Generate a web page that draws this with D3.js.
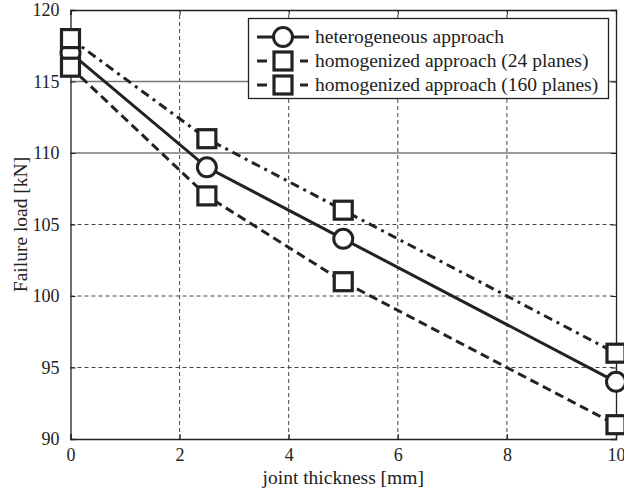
<!DOCTYPE html>
<html>
<head>
<meta charset="utf-8">
<script src="https://cdn.jsdelivr.net/npm/d3@7"></script>
<style>
  body { margin: 0; background: #fff; }
  text { font-family: "Liberation Serif", "Times New Roman", serif; fill: #222; }
</style>
</head>
<body>
<svg id="chart" width="624" height="492"></svg>
<script>
// Joint thickness [mm] at which the failure load was computed
const thickness = [0, 2.5, 5, 10];
// Failure load [kN] for each modelling approach
const heterogeneous = [117, 109, 104, 94];
const homog24 = [116, 107, 101, 91];
const homog160 = [118, 111, 106, 96];

const xTicks = [0, 2, 4, 6, 8, 10];
const yTicks = [90, 95, 100, 105, 110, 115, 120];
const seriesNames = [
  "heterogeneous approach",
  "homogenized approach (24 planes)",
  "homogenized approach (160 planes)"
];

const series = [
  { name: seriesNames[0], values: heterogeneous, dash: null, marker: "circle" },
  { name: seriesNames[1], values: homog24, dash: "9,5", marker: "square" },
  { name: seriesNames[2], values: homog160, dash: "9,5,3,5", marker: "square" }
];

const svg = d3.select("#chart");
const margin = { left: 70.5, right: 8, top: 10, bottom: 53 };
const W = 624, H = 492;
const x = d3.scaleLinear().domain([0, 10]).range([margin.left, W - margin.right]);
const y = d3.scaleLinear().domain([90, 120]).range([H - margin.bottom, margin.top]);

const tickFont = 18, labelFont = 19.5;

// grid
const grid = svg.append("g");
xTicks.slice(1, -1).forEach(t => {
  grid.append("line")
    .attr("x1", x(t)).attr("x2", x(t))
    .attr("y1", y(90)).attr("y2", y(120))
    .attr("stroke", "#444").attr("stroke-width", 1)
    .attr("stroke-dasharray", "4,3");
});
yTicks.slice(1, -1).forEach(t => {
  const solid = t === 110 || t === 115;
  grid.append("line")
    .attr("x1", x(0)).attr("x2", x(10))
    .attr("y1", y(t)).attr("y2", y(t))
    .attr("stroke", solid ? "#777" : "#444").attr("stroke-width", solid ? 1.3 : 1)
    .attr("stroke-dasharray", solid ? null : "4,3");
});

// axes (ticks pointing inward, on all four sides)
const axB = svg.append("g").attr("transform", `translate(0,${y(90)})`)
  .call(d3.axisBottom(x).tickValues(xTicks).tickSize(-5).tickPadding(9).tickFormat(d3.format("d")));
const axT = svg.append("g").attr("transform", `translate(0,${y(120)})`)
  .call(d3.axisTop(x).tickValues(xTicks).tickSize(-5).tickFormat(""));
const axL = svg.append("g").attr("transform", `translate(${x(0)},0)`)
  .call(d3.axisLeft(y).tickValues(yTicks).tickSize(-5).tickPadding(11).tickFormat(d3.format("d")));
const axR = svg.append("g").attr("transform", `translate(${x(10)},0)`)
  .call(d3.axisRight(y).tickValues(yTicks).tickSize(-5).tickFormat(""));
[axB, axT, axL, axR].forEach(a => {
  a.select(".domain").attr("stroke", "#222").attr("stroke-width", 1.3);
  a.selectAll(".tick line").attr("stroke", "#222");
  a.selectAll("text").attr("font-size", tickFont).attr("font-family", "Liberation Serif").attr("fill", "#222");
});
axB.selectAll("text").attr("dy", "0.71em");

// axis titles
svg.append("text")
  .attr("x", (x(0) + x(10)) / 2).attr("y", 484)
  .attr("text-anchor", "middle").attr("font-size", labelFont)
  .text("joint thickness [mm]");
svg.append("text")
  .attr("transform", `translate(27,${(y(90) + y(120)) / 2}) rotate(-90)`)
  .attr("text-anchor", "middle").attr("font-size", labelFont)
  .text("Failure load [kN]");

// lines and markers
const line = d3.line().x((d, i) => x(thickness[i])).y(d => y(d));
const stroke = "#222";
function drawMarker(g, type, cx, cy) {
  if (type === "circle") {
    g.append("circle").attr("cx", cx).attr("cy", cy).attr("r", 9.5)
      .attr("fill", "#fff").attr("stroke", stroke).attr("stroke-width", 3);
  } else {
    g.append("rect").attr("x", cx - 9).attr("y", cy - 9)
      .attr("width", 18).attr("height", 18)
      .attr("fill", "#fff").attr("stroke", stroke).attr("stroke-width", 3.2);
  }
}
series.forEach(s => {
  svg.append("path").datum(s.values).attr("d", line)
    .attr("fill", "none").attr("stroke", stroke).attr("stroke-width", 3)
    .attr("stroke-dasharray", s.dash);
});
series.forEach(s => {
  const g = svg.append("g");
  s.values.forEach((v, i) => drawMarker(g, s.marker, x(thickness[i]), y(v)));
});

// legend
const lg = svg.append("g");
lg.append("rect").attr("x", 248.5).attr("y", 18.5).attr("width", 360).attr("height", 80)
  .attr("fill", "#fff").attr("stroke", "#222").attr("stroke-width", 1.3);
const rowY = [37, 61, 85];
const mx = 283;
series.forEach((s, i) => {
  const cy = rowY[i];
  if (s.dash) {
    lg.append("line").attr("x1", 257).attr("x2", 267).attr("y1", cy).attr("y2", cy)
      .attr("stroke", stroke).attr("stroke-width", 3);
    lg.append("line").attr("x1", 300).attr("x2", 308).attr("y1", cy).attr("y2", cy)
      .attr("stroke", stroke).attr("stroke-width", 3);
  } else {
    lg.append("line").attr("x1", 257).attr("x2", 309).attr("y1", cy).attr("y2", cy)
      .attr("stroke", stroke).attr("stroke-width", 3);
  }
  drawMarker(lg, s.marker, mx, cy);
  lg.append("text").attr("x", 315).attr("y", cy).attr("dy", "0.32em")
    .attr("font-size", labelFont).text(s.name);
});
</script>
</body>
</html>
